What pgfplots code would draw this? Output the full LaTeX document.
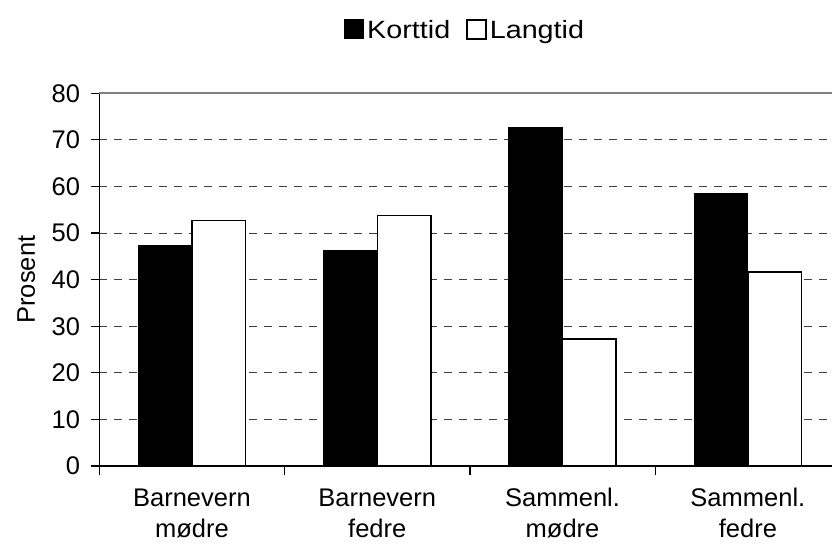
\documentclass[border=0pt]{standalone}
\usepackage{fontspec}
\setmainfont{Liberation Sans}
\newfontfamily\legfont{Liberation Sans}[FakeStretch=1.15]
\usepackage{pgfplots}
\pgfplotsset{compat=1.18}
\newcommand{\hstrut}{\rule{0pt}{0.7\baselineskip}}
\begin{document}
\begin{tikzpicture}
\begin{axis}[
  at={(0,0)}, anchor=south west,
  scale only axis,
  width=732.7bp, height=372.7bp,
  xmin=-0.5, xmax=3.454, ymin=0, ymax=80,
  axis x line*=bottom, axis y line*=left,
  axis line style={-, black, line width=1.3bp},
  ybar, bar width=0.289,
  /pgf/number format/assume math mode=true,
  tick align=outside,
  major tick length=8.5bp,
  tick style={black, line width=1.2bp},
  ytick={0,10,...,70},
  extra y ticks={80},
  extra y tick style={major grid style={solid, black!50, line width=2.2bp}},
  ymajorgrids,
  major grid style={black!75, line width=1bp, dash pattern=on 8bp off 7bp},
  yticklabel style={font=\fontsize{25.5bp}{30bp}\selectfont, inner sep=0pt, xshift=-10.5bp},
  xtick={-0.5,0.5,1.5,2.5},
  xticklabels={},
  extra x ticks={0,1,2,3},
  extra x tick labels={{\strut Barnevern\\\hstrut mødre},{\strut Barnevern\\\hstrut fedre},{\strut Sammenl.\\\hstrut mødre},{\strut Sammenl.\\\hstrut fedre}},
  extra x tick style={major tick length=0pt, xticklabel style={align=center, font=\fontsize{25.5bp}{31bp}\selectfont, inner sep=0pt, anchor=north, yshift=-19bp}},
  every axis y label/.style={at={(axis description cs:-0.1123,0.5)}, rotate=90, anchor=north, inner sep=0pt, font=\fontsize{25.5bp}{30bp}\selectfont},
  ylabel={Prosent},
  legend columns=2,
  legend style={at={(0.5,1.17)}, anchor=center, draw=none, fill=none,
    font=\legfont\fontsize{25bp}{30bp}\selectfont,
    nodes={inner sep=3bp},
    /tikz/every even column/.append style={column sep=13bp}},
]
\addplot[fill=black, draw=black, line width=1.2bp, bar shift=-0.1445,
  legend image code/.code={\draw[fill=black, draw=black, line width=1bp] (0bp,-9bp) rectangle (19bp,10bp);}]
  coordinates {(0,47.3) (1,46.2) (2,72.7) (3,58.4)};
\addlegendentry{Korttid}
\addplot[fill=white, draw=black, line width=1.5bp, bar shift=0.1445,
  legend image code/.code={\draw[fill=white, draw=black, line width=1.5bp] (0bp,-9bp) rectangle (19bp,10bp);}]
  coordinates {(0,52.7) (1,53.8) (2,27.3) (3,41.6)};
\addlegendentry{Langtid}
\end{axis}
\pgfresetboundingbox
\path[use as bounding box] (-99.3bp,-79bp) rectangle (732.7bp,466bp);
\end{tikzpicture}
\end{document}
